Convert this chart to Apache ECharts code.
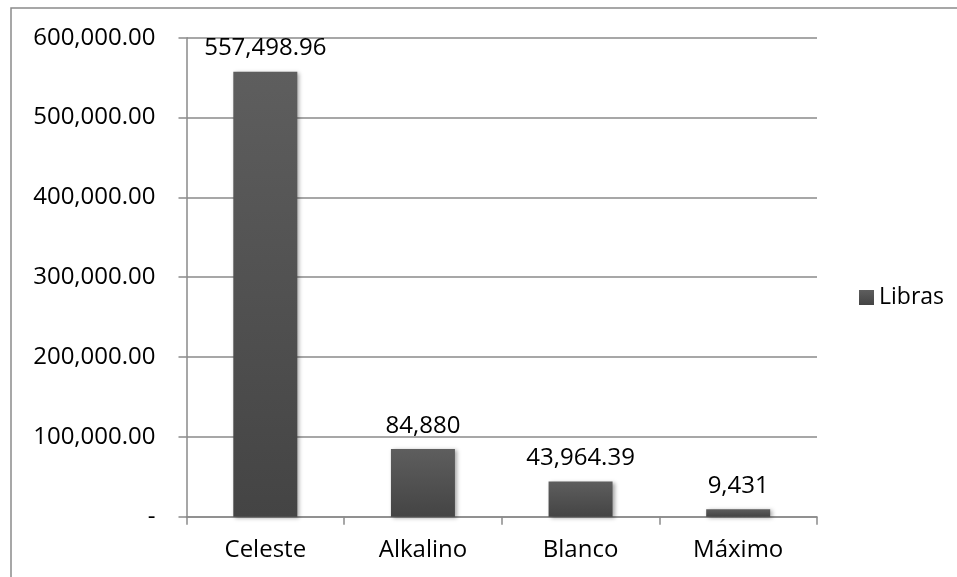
<!DOCTYPE html>
<html>
<head>
<meta charset="utf-8">
<style>
  html, body { margin: 0; padding: 0; background: #fff; }
  #chart { width: 957px; height: 577px; }
</style>
<script src="https://cdn.jsdelivr.net/npm/echarts@6/dist/echarts.min.js"></script>
</head>
<body>
<div id="chart"></div>
<script>
// Pounds per product
const categories = ['Celeste', 'Alkalino', 'Blanco', 'Máximo'];
const libras = [557498.96, 84880, 43964.39, 9431];
const seriesName = 'Libras';
const yTicks = [0, 100000, 200000, 300000, 400000, 500000, 600000];

const FONT = '"Open Sans", "Liberation Sans", sans-serif';

function fmtValue(v) {
  const decimals = Number.isInteger(v) ? 0 : 2;
  return v.toLocaleString('en-US', { minimumFractionDigits: decimals, maximumFractionDigits: decimals });
}
function fmtAxis(v) {
  if (v === 0) return '-';
  return v.toLocaleString('en-US', { minimumFractionDigits: 2, maximumFractionDigits: 2 });
}

const chart = echarts.init(document.getElementById('chart'), null, { renderer: 'canvas' });
chart.setOption({
  animation: false,
  backgroundColor: '#ffffff',
  graphic: [{
    type: 'rect',
    shape: { x: 11, y: 8, width: 1000, height: 700 },
    style: { fill: 'none', stroke: '#8a8a8a', lineWidth: 1.5 },
    silent: true
  }],
  grid: { left: 186.5, right: 140, top: 37.7, bottom: 60.3, containLabel: false },
  legend: {
    data: [seriesName],
    left: 854,
    top: 281,
    orient: 'vertical',
    icon: 'rect',
    itemWidth: 15,
    itemHeight: 15,
    itemGap: 6,
    textStyle: { fontFamily: FONT, fontSize: 23, color: '#000' }
  },
  xAxis: {
    type: 'category',
    data: categories,
    axisLine: { lineStyle: { color: '#8a8a8a', width: 1.5 } },
    axisTick: { show: true, length: 8, lineStyle: { color: '#8a8a8a', width: 1.5 } },
    axisLabel: { fontFamily: FONT, fontSize: 24, color: '#000', margin: 21 }
  },
  yAxis: {
    type: 'value',
    min: yTicks[0],
    max: yTicks[yTicks.length - 1],
    interval: yTicks[1] - yTicks[0],
    axisLine: { show: true, lineStyle: { color: '#8a8a8a', width: 1.5 } },
    axisTick: { show: true, length: 8, lineStyle: { color: '#8a8a8a', width: 1.5 } },
    splitLine: { lineStyle: { color: '#8a8a8a', width: 1.5 } },
    axisLabel: { fontFamily: FONT, fontSize: 24, color: '#000', margin: 31, formatter: fmtAxis }
  },
  series: [{
    name: seriesName,
    type: 'bar',
    data: libras,
    barWidth: '40.6%',
    itemStyle: {
      color: new echarts.graphic.LinearGradient(0, 0, 0, 1, [
        { offset: 0, color: '#5e5e5e' },
        { offset: 1, color: '#444444' }
      ]),
      shadowColor: 'rgba(0,0,0,0.35)',
      shadowBlur: 4,
      shadowOffsetX: 2,
      shadowOffsetY: 1
    },
    label: {
      show: true,
      position: 'top',
      distance: 11,
      fontFamily: FONT,
      fontSize: 24,
      color: '#000',
      formatter: p => fmtValue(p.value)
    }
  }]
});
</script>
</body>
</html>
